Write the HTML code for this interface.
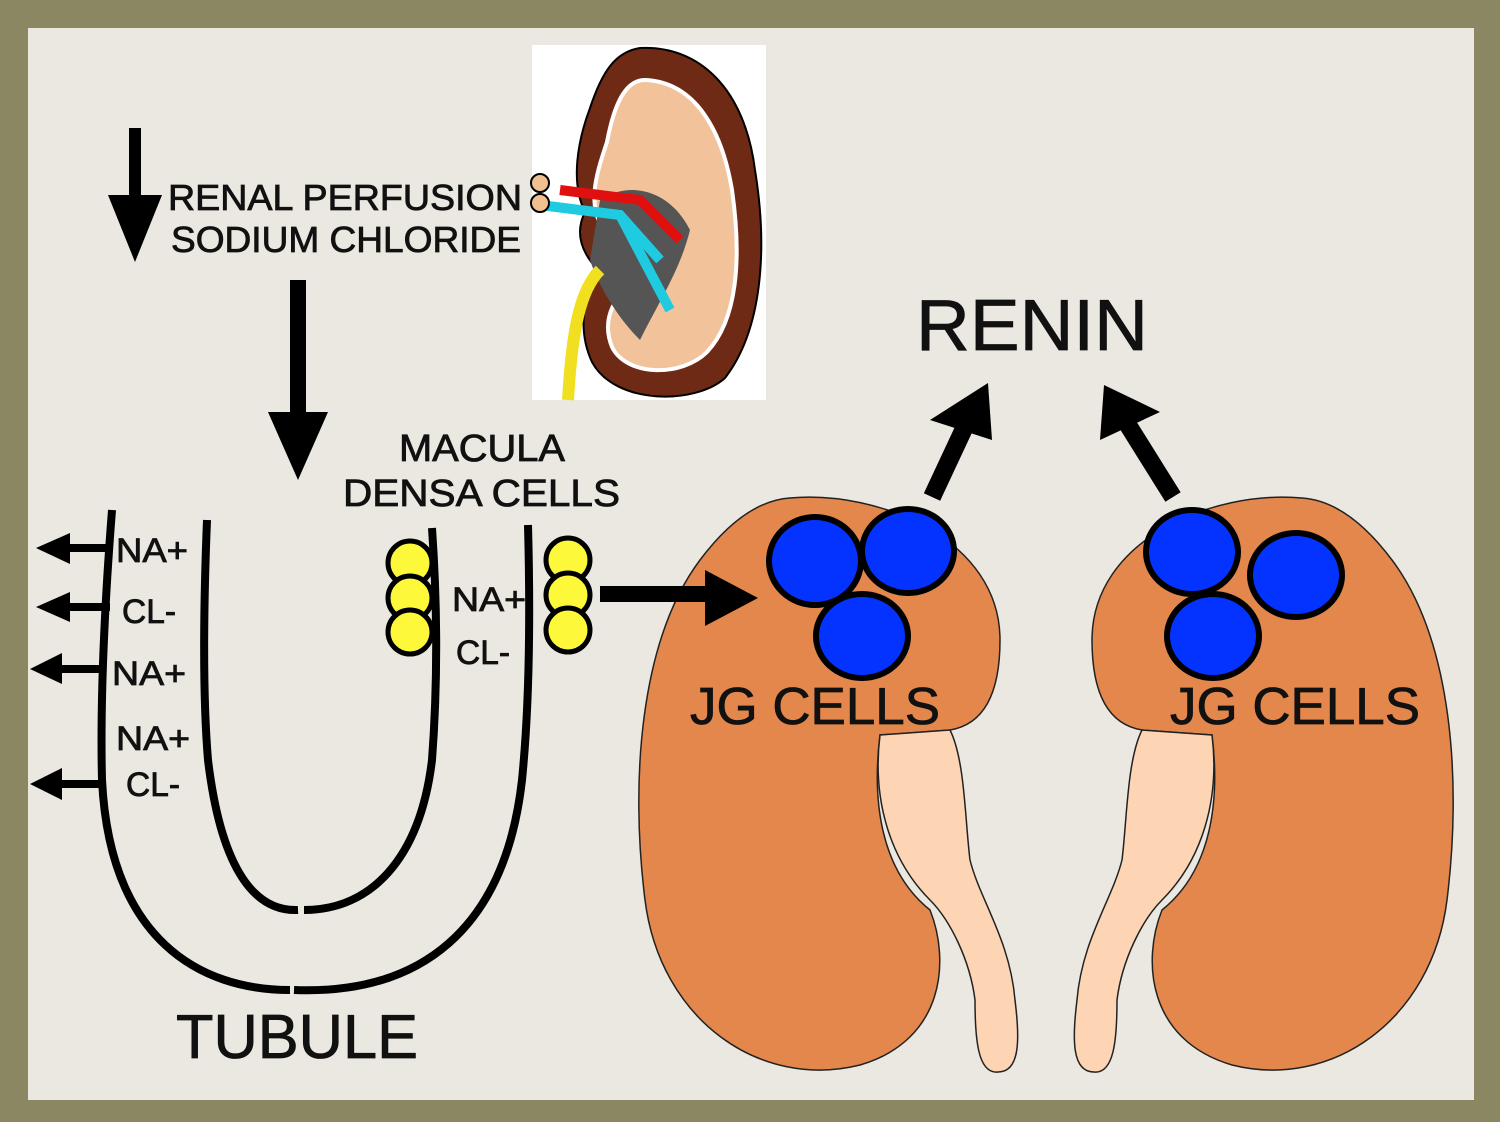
<!DOCTYPE html>
<html><head><meta charset="utf-8"><style>
html,body{margin:0;padding:0;width:1500px;height:1122px;overflow:hidden;background:#8a8762}
svg{display:block}
text{font-family:"Liberation Sans",sans-serif;fill:#111;stroke:#111;stroke-width:0.8}
</style></head><body>
<svg width="1500" height="1122" viewBox="0 0 1500 1122" xmlns="http://www.w3.org/2000/svg">
<rect x="0" y="0" width="1500" height="1122" fill="#8a8762"/>
<rect x="28" y="28" width="1446" height="1072" fill="#eae8e0"/>

<!-- small kidney picture -->
<rect x="532" y="45" width="234" height="355" fill="#ffffff"/>
<path d="M640 48 C700 45 745 90 755 170 C768 250 762 330 725 378 C695 405 615 405 592 362 C578 332 582 292 600 272 C580 252 575 232 585 212 C570 182 578 140 590 108 C602 72 615 52 640 48 Z" fill="#6e2a14" stroke="#000" stroke-width="2"/>
<path d="M645 80 C695 82 722 130 732 190 C742 260 737 320 707 352 C682 377 627 377 612 347 C602 322 612 297 632 287 C607 272 592 252 602 227 C587 202 597 172 607 142 C614 105 625 80 645 80 Z" fill="#f2c29a" stroke="#fff" stroke-width="4"/>
<path d="M600 200 C630 180 670 190 690 230 C680 270 660 300 640 340 C620 320 600 290 590 260 Z" fill="#555"/>
<path d="M560 190 L640 200 L680 240" stroke="#e01010" stroke-width="10" fill="none"/>
<path d="M540 205 L620 215 L660 260 M620 215 L670 310" stroke="#1ecbe0" stroke-width="10" fill="none"/>
<path d="M600 270 C580 290 572 330 568 400" stroke="#f0e020" stroke-width="12" fill="none"/>
<circle cx="540" cy="183" r="9" fill="#f0c090" stroke="#000" stroke-width="2"/>
<circle cx="540" cy="203" r="9" fill="#f0c090" stroke="#000" stroke-width="2"/>

<!-- top text -->
<text x="168" y="210" font-size="36" textLength="354" lengthAdjust="spacingAndGlyphs">RENAL PERFUSION</text>
<text x="171" y="252" font-size="36" textLength="350" lengthAdjust="spacingAndGlyphs">SODIUM CHLORIDE</text>
<!-- down arrows -->
<rect x="129" y="128" width="12" height="70" fill="#000"/>
<polygon points="108,195 162,195 135,262" fill="#000"/>
<rect x="290" y="280" width="16" height="135" fill="#000"/>
<polygon points="268,412 328,412 298,480" fill="#000"/>

<text x="399" y="461" font-size="38" textLength="166" lengthAdjust="spacingAndGlyphs">MACULA</text>
<text x="343" y="506" font-size="38" textLength="277" lengthAdjust="spacingAndGlyphs">DENSA CELLS</text>

<!-- tubule -->
<g fill="none" stroke="#000" stroke-width="8">
<path d="M112 510 C105 600 100 700 102 780 C110 940 200 990 290 990"/>
<path d="M294 990 C420 995 505 930 522 780 C530 700 530 600 528 525"/>
<path d="M207 520 C203 620 203 700 208 760 C220 860 250 912 298 910"/>
<path d="M304 910 C370 910 420 860 432 760 C438 680 437 600 432 528"/>
</g>
<!-- left arrows -->
<g fill="#000">
<rect x="70" y="544" width="40" height="8"/><polygon points="36,548 70,533 70,564"/>
<rect x="70" y="603" width="40" height="8"/><polygon points="36,607 70,592 70,622"/>
<rect x="60" y="665" width="45" height="8"/><polygon points="30,669 62,653 62,684"/>
<rect x="60" y="780" width="45" height="8"/><polygon points="30,784 62,768 62,800"/>
</g>
<g font-size="34">
<text x="116" y="562" textLength="72" lengthAdjust="spacingAndGlyphs">NA+</text>
<text x="122" y="623" textLength="54" lengthAdjust="spacingAndGlyphs">CL-</text>
<text x="112" y="685" textLength="74" lengthAdjust="spacingAndGlyphs">NA+</text>
<text x="116" y="750" textLength="74" lengthAdjust="spacingAndGlyphs">NA+</text>
<text x="126" y="796" textLength="54" lengthAdjust="spacingAndGlyphs">CL-</text>
<text x="452" y="611" textLength="74" lengthAdjust="spacingAndGlyphs">NA+</text>
<text x="456" y="664" textLength="54" lengthAdjust="spacingAndGlyphs">CL-</text>
</g>

<!-- yellow cells -->
<g fill="#fdf83a" stroke="#000" stroke-width="5">
<circle cx="410" cy="563" r="22"/><circle cx="410" cy="598" r="22"/><circle cx="410" cy="632" r="22"/>
<circle cx="568" cy="560" r="22"/><circle cx="568" cy="595" r="22"/><circle cx="568" cy="630" r="22"/>
</g>

<!-- big kidneys -->
<g id="k">
<path d="M790 498 C880 490 1000 540 1000 640 C1000 700 980 725 950 730 L880 735 C872 800 880 870 930 910 C950 960 945 1040 860 1065 C760 1090 660 1020 645 900 C630 780 640 640 700 560 C730 520 760 500 790 498 Z" fill="#e4874c" stroke="#222" stroke-width="1.5"/>
<path d="M880 735 L950 730 C965 760 965 820 970 860 C980 900 1010 940 1015 1000 C1020 1040 1020 1072 998 1072 C978 1074 975 1040 975 1000 C970 960 950 920 930 900 C890 860 872 800 880 735 Z" fill="#fdd5b5" stroke="#222" stroke-width="1.5"/>
</g>
<use href="#k" transform="translate(2092,0) scale(-1,1)"/>

<!-- arrow to JG -->
<rect x="600" y="586" width="110" height="16" fill="#000"/>
<polygon points="705,570 758,598 705,626" fill="#000"/>

<g fill="#0433ff" stroke="#000" stroke-width="6">
<ellipse cx="815" cy="561" rx="46" ry="44"/>
<ellipse cx="908" cy="551" rx="46" ry="42"/>
<ellipse cx="862" cy="636" rx="46" ry="42"/>
<ellipse cx="1192" cy="552" rx="46" ry="42"/>
<ellipse cx="1296" cy="575" rx="46" ry="42"/>
<ellipse cx="1213" cy="636" rx="46" ry="42"/>
</g>
<text x="690" y="724" font-size="52" textLength="250" lengthAdjust="spacingAndGlyphs">JG CELLS</text>
<text x="1170" y="724" font-size="52" textLength="250" lengthAdjust="spacingAndGlyphs">JG CELLS</text>

<!-- renin arrows -->
<line x1="932" y1="497" x2="968" y2="420" stroke="#000" stroke-width="18"/>
<polygon points="930,420 988,383 992,440" fill="#000"/>
<line x1="1173" y1="497" x2="1128" y2="425" stroke="#000" stroke-width="18"/>
<polygon points="1100,440 1104,385 1160,412" fill="#000"/>
<text x="916" y="350" font-size="72" textLength="232" lengthAdjust="spacingAndGlyphs">RENIN</text>

<text x="176" y="1058" font-size="62" textLength="242" lengthAdjust="spacingAndGlyphs">TUBULE</text>
</svg>
</body></html>
